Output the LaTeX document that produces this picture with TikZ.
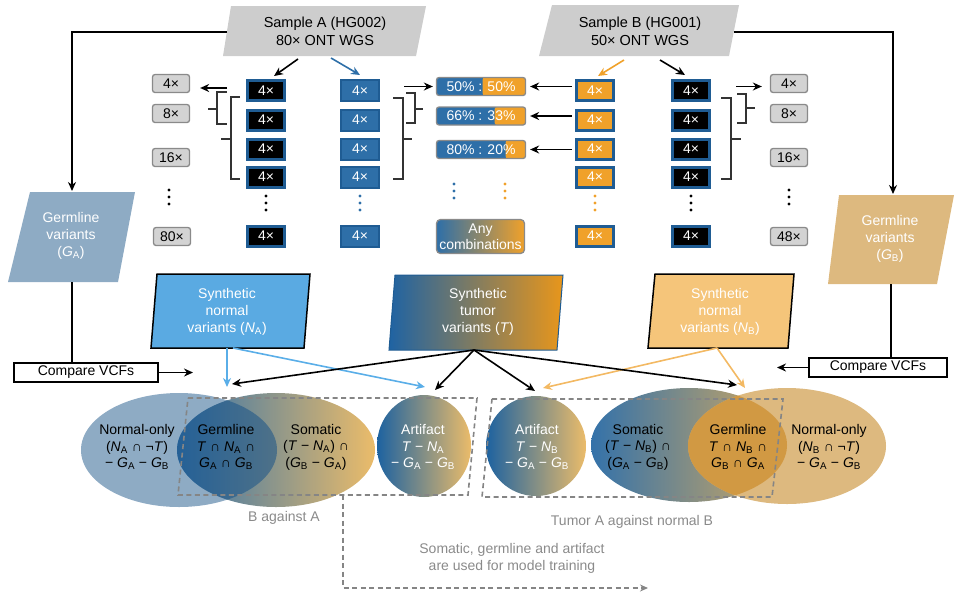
\documentclass[tikz,border=0pt]{standalone}
\usepackage{fontspec}
\setmainfont{Liberation Sans}
\usetikzlibrary{arrows.meta,calc}
\definecolor{cBord}{HTML}{1F5C93}
\definecolor{cBlue}{HTML}{2E6FA8}
\definecolor{cOr}{HTML}{F0A12A}
\definecolor{cGray}{HTML}{D3D3D3}
\definecolor{cGrayB}{HTML}{8A8A8A}
\definecolor{cSamp}{HTML}{CDCDCD}
\definecolor{cGA}{HTML}{8EABC4}
\definecolor{cGB}{HTML}{DDB97F}
\definecolor{cNA}{HTML}{5AAAE2}
\definecolor{cNB}{HTML}{F5C57A}
\definecolor{cTL}{HTML}{1F63A3}
\definecolor{cTR}{HTML}{E8961B}
\definecolor{cLB}{HTML}{5AAEE8}
\definecolor{cLO}{HTML}{F3B963}
\definecolor{cEL}{HTML}{1D62A0}
\definecolor{cER}{HTML}{EBBC6A}
\definecolor{cTxt}{HTML}{8A8A8A}
\definecolor{cDash}{HTML}{858585}
\newcommand\vN[1]{\textit{N}\textsubscript{#1}}
\newcommand\vG[1]{\textit{G}\textsubscript{#1}}
\newcommand\vT{\textit{T}}
\begin{document}
\begin{tikzpicture}[x=1pt,y=-1pt,
  font=\fontsize{14}{17}\selectfont,
  arr/.style={-{Stealth[length=9pt,width=8pt]}, line width=1.6pt},
  lbl/.style={align=center, inner sep=0pt},
  covbox/.style={draw=cGrayB, fill=cGray, line width=1.3pt, rounded corners=2.5pt, minimum width=37pt, minimum height=18pt, inner sep=0pt},
  blkbox/.style={draw=cBord, line width=3pt, fill=black, text=white, minimum width=37pt, minimum height=20pt, inner sep=0pt},
  blubox/.style={draw=cBord, line width=2pt, fill=cBlue, text=white, minimum width=38pt, minimum height=21pt, inner sep=0pt},
  orbox/.style={draw=cBord, line width=3pt, fill=cOr, text=white, minimum width=37pt, minimum height=20pt, inner sep=0pt},
  pct/.style={draw=cGrayB, line width=1.3pt, fill=cBlue, text=white, rounded corners=2.5pt, minimum width=89pt, minimum height=18pt, inner sep=0pt,
    path picture={\fill[cOr] ([xshift=-#1]path picture bounding box.north east) rectangle (path picture bounding box.south east);}},
  brk/.style={line width=1.1pt, draw=black!80},
  cmp/.style={draw=black, line width=1.5pt, fill=white, minimum width=144pt, minimum height=19pt, inner sep=0pt},
  dashbox/.style={draw=cDash, line width=1.6pt, dash pattern=on 5pt off 3.5pt},
  gtxt/.style={text=cTxt, align=center, inner sep=0pt},
]
\useasboundingbox (0,0) rectangle (958,606);

% samples
\fill[cSamp] (231,6) -- (426,6) -- (416,56) -- (223,56) -- cycle;
\node[lbl, font=\fontsize{14.5}{18}\selectfont] (sA) at (325,31) {Sample A (HG002)\\80× ONT WGS};
\fill[cSamp] (552,5) -- (739,5) -- (729,56) -- (539,56) -- cycle;
\node[lbl, font=\fontsize{14.5}{18}\selectfont] (sB) at (640,31) {Sample B (HG001)\\50× ONT WGS};
\coordinate (sAl) at (227,32);
\coordinate (sBr) at (734,32);

% germline variants
\fill[cGA] (30,192) -- (135,192) -- (118,282) -- (8,282) -- cycle;
\node[lbl,text=white] (gA) at (71,236) {Germline\\variants\\(\vG{A})};
\fill[cGB] (839,195) -- (954,195) -- (937,284) -- (828,284) -- cycle;
\node[lbl,text=white] (gB) at (890,239) {Germline\\variants\\(\vG{B})};
\coordinate (gAt) at (72,191);
\coordinate (gBt) at (893,194);
\coordinate (gAb) at (72,282);
\coordinate (gBb) at (891,284);
\draw[arr] (sAl) -| (gAt);
\draw[arr] (sBr) -| (gBt);

% compare VCFs
\node[cmp] (cA) at (86,372.5) {Compare VCFs};
\node[cmp, minimum width=138pt] (cB) at (878,367.5) {Compare VCFs};
\draw[line width=1.5pt] (gAb) -- (gAb |- cA.north);
\draw[line width=1.5pt] (gBb) -- (gBb |- cB.north);
\coordinate (cAe) at (193,372.5);
\coordinate (cBe) at (777,367.5);
\draw[arr] (cA.east) -- (cAe);
\draw[arr] (cB.west) -- (cBe);

% columns of 4x subsets
\foreach \i/\y in {1/90.5,2/120,3/149,4/177,5/236} {
  \node[blkbox] (ak\i) at (266,\y) {4×};
  \node[blubox] (ab\i) at (360,\y) {4×};
  \node[orbox] (bo\i) at (595,\y) {4×};
  \node[blkbox] (bk\i) at (691,\y) {4×};
}
\foreach \x/\c in {266/black,360/cBlue,595/cOr,691/black}
  \foreach \y in {196,203,210} \fill[\c] (\x,\y) circle (1.7pt);
\foreach \x in {169,789}
  \foreach \y in {190,197,204} \fill[black] (\x,\y) circle (1.7pt);
\foreach \x/\c in {454/cBlue,505/cOr}
  \foreach \y in {184,191,198} \fill[\c] (\x,\y) circle (1.7pt);

% coverage boxes
\node[covbox] (ca1) at (171,83.5) {4×};
\node[covbox] (ca2) at (171,113.5) {8×};
\node[covbox] (ca3) at (171,157.5) {16×};
\node[covbox] (ca4) at (172,236.5) {80×};
\node[covbox] (cb1) at (789,83.5) {4×};
\node[covbox] (cb2) at (789,113.5) {8×};
\node[covbox] (cb3) at (789,157.5) {16×};
\node[covbox] (cb4) at (789,236.5) {48×};

% mixing boxes
\node[pct=43pt] (p1) at (481,86.5) {50\% : 50\%};
\node[pct=31pt] (p2) at (481,116) {66\% : 33\%};
\node[pct=20pt] (p3) at (481,149.5) {80\% : 20\%};
\node[draw=cGrayB, line width=1.3pt, rounded corners=4pt, left color=cBlue, right color=cOr, text=white, minimum width=88pt, minimum height=34pt, align=center, inner sep=0pt, font=\fontsize{14}{16}\selectfont] (pany) at (480.5,236.5) {Any\\combinations};

% arrows between columns
\draw[arr] ([shift={(-19,-2.5)}]ak1.west) -- ([shift={(10,4.5)}]ca1.east);
\draw[arr] ([xshift=24]ab1.east |- p1.west) -- ([xshift=-3]p1.west);
\draw[arr] ([xshift=-3]bo1.west |- p1.east) -- ([xshift=4]p1.east);
\draw[arr] ([xshift=-3]bo2.west |- p2.east) -- ([xshift=4]p2.east);
\draw[arr] ([xshift=-3]bo3.west |- p3.east) -- ([xshift=4]p3.east);
\draw[arr] ([shift={(25,-4)}]bk1.east) -- ([shift={(-8,3)}]cb1.west);

% brackets
\draw[brk] (227,92) -| (217,124) -- (227,124);
\draw[brk] (217,109) -- (208,109);
\draw[brk] (240,97) -| (231,179) -- (240,179);
\draw[brk] (231,139) -- (221,139);
\draw[brk] (406,93) -| (415,123) -- (406,123);
\draw[brk] (415,109) -- (423,109);
\draw[brk] (393,98) -| (403,179) -- (393,179);
\draw[brk] (403,139) -- (412,139);
\draw[brk] (737,94) -| (746,123) -- (737,123);
\draw[brk] (746,108) -- (755,108);
\draw[brk] (721,98) -| (731,179) -- (721,179);
\draw[brk] (731,139) -- (741,139);

% sample arrows
\coordinate (sAb1) at (298,59);
\coordinate (sAb2) at (331,58);
\coordinate (sBb1) at (624,60);
\coordinate (sBb2) at (660,60);
\draw[arr] (sAb1) -- ([shift={(8,-3)}]ak1.north);
\draw[arr, cBlue] (sAb2) -- ([shift={(0,-4)}]ab1.north);
\draw[arr, cOr] (sBb1) -- ([shift={(3,-3)}]bo1.north);
\draw[arr] (sBb2) -- ([shift={(-6,-4)}]bk1.north);

% synthetic variant sets
\filldraw[fill=cNA, draw=black, line width=1.5pt] (157,274) -- (310,274) -- (304,348) -- (151,348) -- cycle;
\node[lbl, text=white] (nA) at (227,312) {Synthetic\\normal\\variants (\vN{A})};
\path[left color=cTL, right color=cTR, draw=cBord, line width=1pt] (395,275) -- (563,275) -- (557,350) -- (389,350) -- cycle;
\node[lbl, text=white] (tT) at (478,312) {Synthetic\\tumor\\variants (\vT)};
\filldraw[fill=cNB, draw=black, line width=1.5pt] (655,274) -- (794,274) -- (788,348) -- (648,348) -- cycle;
\node[lbl, text=white] (nB) at (720,312) {Synthetic\\normal\\variants (\vN{B})};

% left Venn group
\fill[cGA] (179,450) ellipse [x radius=98pt, y radius=57pt];
\shade[left color=cEL!90!white, right color=cER] (276,450) ellipse [x radius=99pt, y radius=57pt];
\begin{scope}
  \clip (179,450) ellipse [x radius=98pt, y radius=57pt];
  \fill[cEL!85!black, opacity=0.55] (276,450) ellipse [x radius=99pt, y radius=57pt];
\end{scope}
\shade[left color=cEL, right color=cER] (424,446) ellipse [x radius=47pt, y radius=51pt];

% right Venn group
\shade[left color=cEL, right color=cER] (536,446) ellipse [x radius=50pt, y radius=50pt];
\shade[left color=cEL!90!white, right color=cER!90!black] (689,445) ellipse [x radius=98pt, y radius=57pt];
\fill[cGB] (787,446) ellipse [x radius=99pt, y radius=58pt];
\begin{scope}
  \clip (689,445) ellipse [x radius=98pt, y radius=57pt];
  \fill[cOr!85!black, opacity=0.65] (787,446) ellipse [x radius=99pt, y radius=58pt];
\end{scope}

% Venn texts
\begin{scope}[font=\fontsize{14}{16.5}\selectfont]
\node[lbl] (noA) at (137,447) {Normal-only\\(\vN{A} ∩ ¬\vT)\\− \vG{A} − \vG{B}};
\node[lbl] (geA) at (226,447) {Germline\\\vT{} ∩ \vN{A} ∩\\\vG{A} ∩ \vG{B}};
\node[lbl] (soA) at (316,447) {Somatic\\(\vT{} − \vN{A}) ∩\\(\vG{B} − \vG{A})};
\node[lbl, text=white] (arA) at (423,447) {Artifact\\\vT{} − \vN{A}\\− \vG{A} − \vG{B}};
\node[lbl, text=white] (arB) at (537,447) {Artifact\\\vT{} − \vN{B}\\− \vG{A} − \vG{B}};
\node[lbl] (soB) at (638,447) {Somatic\\(\vT{} − \vN{B}) ∩\\(\vG{A} − \vG{B})};
\node[lbl] (geB) at (738,447) {Germline\\\vT{} ∩ \vN{B} ∩\\\vG{B} ∩ \vG{A}};
\node[lbl] (noB) at (829,447) {Normal-only\\(\vN{B} ∩ ¬\vT)\\− \vG{A} − \vG{B}};
\end{scope}

% dashed boxes
\draw[dashbox] (188,398) -- (477,398) -- (468,495) -- (178,495) -- cycle;
\draw[dashbox] (492,399) -- (783,399) -- (772,497) -- (482,497) -- cycle;
\coordinate (dS) at (343,495);
\coordinate (dE) at (648,588);
\draw[dashbox, -{Stealth[length=8pt,width=7pt]}] (dS) |- (dE);

% arrows to Venn sets
\coordinate (nAb) at (227,348);
\coordinate (nAb2) at (233,348);
\coordinate (tTb) at (474,350);
\coordinate (nBb) at (717,348);
\coordinate (eA1) at (227,387);
\coordinate (eA2) at (425,387);
\coordinate (tA1) at (232,384);
\coordinate (tA2) at (435,390);
\coordinate (tB1) at (535,391);
\coordinate (tB2) at (737,385);
\coordinate (eB1) at (543,388);
\coordinate (eB2) at (745,388);
\draw[arr, cLB] (nAb) -- (eA1);
\draw[arr, cLB] (nAb2) -- (eA2);
\draw[arr, cLO] (nBb) -- (eB1);
\draw[arr, cLO] (nBb) -- (eB2);
\draw[arr] (tTb) -- (tA1);
\draw[arr] (tTb) -- (tA2);
\draw[arr] (tTb) -- (tB1);
\draw[arr] (tTb) -- (tB2);

% gray captions
\node[gtxt] (capA) at (284,518) {B against A};
\node[gtxt] (capB) at (632,522) {Tumor A against normal B};
\node[gtxt] (capT) at (512,558) {Somatic, germline and artifact\\are used for model training};
\end{tikzpicture}
\end{document}
